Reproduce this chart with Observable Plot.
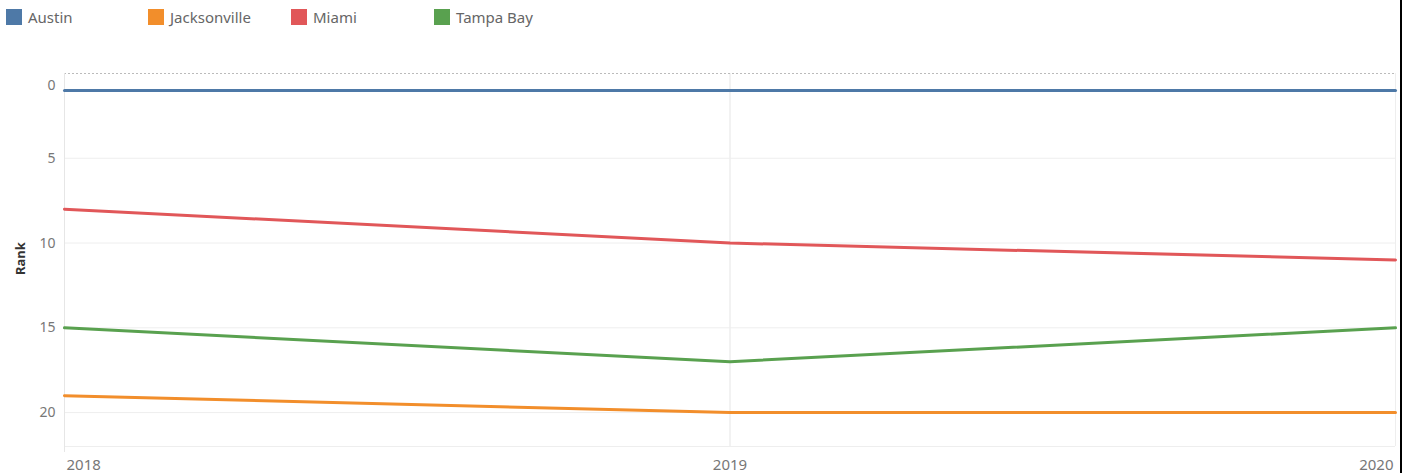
<!DOCTYPE html>
<html>
<head>
<meta charset="utf-8">
<script src="https://cdn.jsdelivr.net/npm/d3@7"></script>
<script src="https://cdn.jsdelivr.net/npm/@observablehq/plot@0.6"></script>
<style>
  html, body { margin: 0; padding: 0; background: #fff; }
  #wrap { position: relative; width: 1404px; height: 473px; overflow: hidden; font-family: "Noto Sans", sans-serif; }
  #legend { position: relative; height: 45px; }
  .item { position: absolute; top: 9px; height: 16px; display: flex; align-items: center; }
  .sw { width: 16px; height: 16px; margin-right: 6px; }
  .lb { font-size: 15px; color: #666; white-space: nowrap; }
  #edge { position: absolute; left: 1400px; top: 0; width: 2px; height: 473px; background: #000; }
  svg { display: block; }
</style>
</head>
<body>
<div id="wrap">
  <div id="legend"></div>
  <div id="chart"></div>
  <div id="edge"></div>
</div>
<script>
const years = [2018, 2019, 2020];
const cities = ["Austin", "Jacksonville", "Miami", "Tampa Bay"];
const austinRank = [1, 1, 1];
const jacksonvilleRank = [19, 20, 20];
const miamiRank = [8, 10, 11];
const tampaBayRank = [15, 17, 15];
const colors = ["#4e79a7", "#f28e2b", "#e15759", "#59a14f"];
const yTicks = [0, 5, 10, 15, 20];

const series = [austinRank, jacksonvilleRank, miamiRank, tampaBayRank];
const rows = [];
cities.forEach((c, i) => years.forEach((y, j) => rows.push({city: c, year: y, rank: series[i][j]})));

// legend
const legend = document.getElementById("legend");
const legendX = [6, 148, 291, 434];
cities.forEach((c, i) => {
  const d = document.createElement("div");
  d.className = "item";
  d.style.left = legendX[i] + "px";
  d.innerHTML = `<div class="sw" style="background:${colors[i]}"></div><span class="lb">${c}</span>`;
  legend.appendChild(d);
});

const W = 1404, H = 428;
const mT = 28, mB = 27, mL = 64, mR = 9;
const yMax = 22;

const chart = Plot.plot({
  width: W, height: H,
  marginTop: mT, marginBottom: mB, marginLeft: mL, marginRight: mR,
  style: {fontFamily: "Noto Sans, sans-serif", background: "#fff"},
  x: {domain: [2018, 2020], axis: null},
  y: {domain: [0, yMax], reverse: true, axis: null},
  color: {domain: cities, range: colors},
  marks: [
    Plot.ruleY(yTicks.filter(d => d > 0), {stroke: "#eeeeee", strokeWidth: 1}),
    Plot.ruleY([yMax], {stroke: "#eeeeee", strokeWidth: 1}),
    Plot.ruleX([2019], {stroke: "#eeeeee", strokeWidth: 1.5}),
    Plot.ruleX([2020], {stroke: "#eeeeee", strokeWidth: 1}),
    Plot.ruleY([0], {stroke: "#bbbbbb", strokeWidth: 1, strokeDasharray: "2,2"}),
    Plot.ruleX([2018], {y1: 0, y2: yMax, stroke: "#e6e6e6", strokeWidth: 1, insetBottom: -6}),
    Plot.line(rows, {x: "year", y: "rank", z: "city", stroke: "city", strokeWidth: 3}),
    Plot.text(yTicks.filter(d => d > 0), {x: 2018, y: d => d, text: d => String(d), textAnchor: "end", dx: -9, fill: "#777", fontSize: 14}),
    Plot.text([0], {x: 2018, y: d => d, text: d => String(d), textAnchor: "end", dx: -9, dy: 12, fill: "#777", fontSize: 14}),
    Plot.text([years[0]], {x: d => d, y: yMax, text: d => String(d), textAnchor: "start", dx: 2, dy: 19, fill: "#777", fontSize: 15}),
    Plot.text([years[1]], {x: d => d, y: yMax, text: d => String(d), textAnchor: "middle", dy: 19, fill: "#777", fontSize: 15}),
    Plot.text([years[2]], {x: d => d, y: yMax, text: d => String(d), textAnchor: "end", dx: -2, dy: 19, fill: "#777", fontSize: 15}),
    Plot.text(["Rank"], {frameAnchor: "left", dx: -44, dy: 15, rotate: -90, fill: "#333", fontSize: 13, fontWeight: "bold"})
  ]
});
document.getElementById("chart").appendChild(chart);
</script>
</body>
</html>
